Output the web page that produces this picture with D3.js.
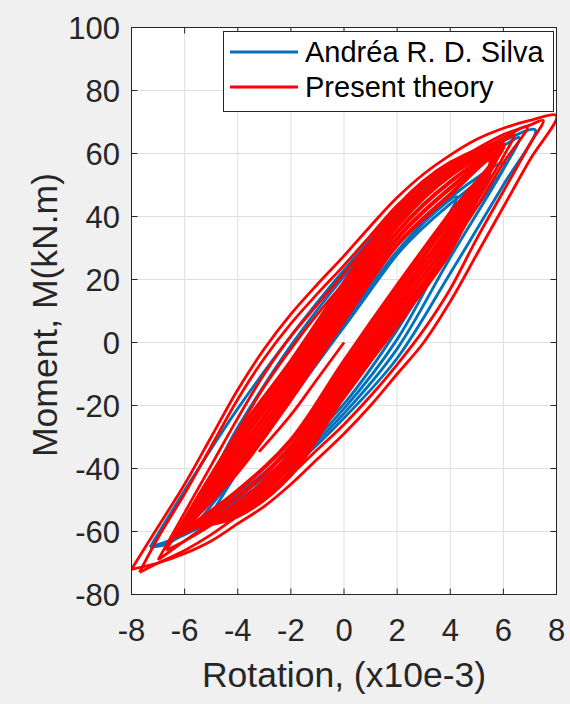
<!DOCTYPE html>
<html>
<head>
<meta charset="utf-8">
<script src="https://cdn.jsdelivr.net/npm/d3@7"></script>
<style>
  html, body { margin: 0; padding: 0; background: #f0f0f0; }
  svg { display: block; font-family: Arial, "Liberation Sans", Helvetica, sans-serif; }
</style>
</head>
<body>
<svg id="chart" width="570" height="704"></svg>
<script>
// --- axis ticks
const xTicks = [-8, -6, -4, -2, 0, 2, 4, 6, 8];
const yTicks = [-80, -60, -40, -20, 0, 20, 40, 60, 80, 100];

// --- experimental loops (blue), [rotation, moment]
const blueLoop1 = [[-7.3,-65],[-6,-47],[-4,-21],[-2,2],[0,23],[2,42],[4,55],[6,64],[7.2,67.5],
  [6,50],[4,22],[2,-5],[0,-24],[-2,-40],[-4,-52],[-6,-61],[-7.3,-65]];
const blueLoop2 = [[-7.3,-65],[-6.4,-62.7],[-4,-27],[-2,-1],[0,21],[2,40],[4,54],[6,62.5],[6.6,65],
  [6,55],[4,27],[2,-2],[0,-22.5],[-2,-39],[-4,-51],[-6.4,-62.7]];
const blueLoop3 = [[-6,-60],[-4,-39],[-2,-17],[0,6],[2,29],[4,46],[6.05,57],
  [4,31],[2,1],[0,-21],[-2,-38],[-4,-50],[-6,-60]];
const blueLoop4 = [[-5.5,-57],[-4,-41],[-2,-18],[0,5],[2,28],[4,44],[5.5,53],
  [4,32],[2,4],[0,-19.5],[-2,-36],[-4,-49],[-5.5,-57]];
const blueLoop5 = [[-4.86,-52.6],[-4,-41],[-2,-17],[0,5],[2,28],[3,38],[4.24,46.3],
  [3,27],[2,10],[0,-17],[-2,-34],[-4,-48],[-4.86,-52.6]];

// --- present theory (red): outer loops
const redLoop1 = [[-8,-72],[-7,-58.5],[-6,-45],[-5,-30],[-4,-15],[-3,-2],[-2,9],[-1,18.5],[0,27.5],[1,37],[2,46],[3,53.5],[4,59.5],[5,64.5],[6,68],[7,70.5],[8,72],
  [7,58],[6,43],[5,28],[4,13],[3,0],[2,-10],[1,-20],[0,-29],[-1,-37],[-2,-45],[-3,-52],[-4,-57.5],[-5,-63],[-6,-67],[-7,-70],[-8,-72]];
const redLoop2 = [[-7.7,-73],[-7,-62],[-6,-48],[-5,-33],[-4,-18],[-3,-5],[-2,6],[-1,15.5],[0,24.5],[1,34],[2,43.5],[3,50.5],[4,56.5],[5,61.5],[6,66],[7,69],[7.5,70.5],
  [7,63],[6,48],[5,33],[4,17],[3,4],[2,-7],[1,-17],[0,-26],[-1,-34],[-2,-42],[-3,-49],[-4,-55],[-5,-61],[-6,-66],[-7,-70],[-7.7,-73]];
const redLoop3 = [[-7,-69],[-6,-54],[-5,-39],[-4,-24],[-3,-10],[-2,2],[-1,12],[0,22],[1,32],[2,41],[3,48],[4,55],[5,60.5],[6,65],[6.9,68.5],
  [6,57],[5,43],[4,30],[3,17],[2,5],[1,-6],[0,-17],[-1,-27],[-2,-36],[-3,-44],[-4,-51],[-5,-57],[-6,-63],[-7,-69]];
const redLoop4 = [[-6.7,-66],[-6,-56],[-5,-42],[-4,-28],[-3,-14],[-2,-2],[-1,9],[0,19],[1,29],[2,38],[3,46],[4,53],[5,59],[6,64],[6.4,66],
  [6,59],[5,45],[4,31],[3,18],[2,6],[1,-6],[0,-17.5],[-1,-28],[-2,-37],[-3,-45],[-4,-52],[-5,-58],[-6,-63],[-6.7,-66]];

// --- present theory (red): dense repeated cycles
const redCycle1 = [[-6.4,-62],[-4,-29],[-2,-6],[0,19],[2,43],[4,57],[6.0,63],[4,41],[2,18],[0,-6],[-2,-31],[-4,-47],[-6.4,-62]];
const redCycle2 = [[-6.3,-61],[-4,-31],[-2,-8],[0,17],[2,41],[4,56],[5.9,62],[4,39],[2,16],[0,-8],[-2,-33],[-4,-49],[-6.3,-61]];
const redCycle3 = [[-6.2,-61],[-4,-33],[-2,-10],[0,15],[2,39],[4,54],[5.8,62],[4,37],[2,14],[0,-10],[-2,-35],[-4,-51],[-6.2,-61]];
const redCycle4 = [[-6.2,-60],[-4,-35],[-2,-12],[0,13],[2,37],[4,53],[5.8,61],[4,35],[2,12],[0,-12],[-2,-37],[-4,-53],[-6.2,-60]];
const redCycle5 = [[-6.1,-59],[-4,-37],[-2,-14],[0,11],[2,35],[4,51],[5.7,60],[4,33],[2,10],[0,-14],[-2,-39],[-4,-54],[-6.1,-59]];
const redCycle6 = [[-6.0,-59],[-4,-39],[-2,-16],[0,9],[2,33],[4,49],[5.6,59],[4,31],[2,8],[0,-16],[-2,-41],[-4,-55],[-6.0,-59]];
const redCycle7 = [[-5.9,-58],[-4,-41],[-2,-18],[0,7],[2,31],[4,47],[5.5,58],[4,29],[2,6],[0,-17],[-2,-42],[-4,-55],[-5.9,-58]];
const redStart = [[0,0],[-1,-11.5],[-2,-23],[-3.2,-34.7]];

const blueLoops = [blueLoop1, blueLoop2, blueLoop3, blueLoop4, blueLoop5];
const redLoops = [redLoop1, redLoop2, redLoop3, redLoop4, redStart];
const redCycles = [redCycle1, redCycle2, redCycle3, redCycle4, redCycle5, redCycle6, redCycle7];

const legendLabels = ['Andréa R. D. Silva', 'Present theory'];
const BLUE = '#0072BD', RED = '#FF0000';

// --- layout
const svg = d3.select('#chart');
const L = 131.5, R = 556.5, T = 27.5, B = 594.5;
const x = d3.scaleLinear().domain([-8, 8]).range([L, R]);
const y = d3.scaleLinear().domain([-80, 100]).range([B, T]);

// axes background
svg.append('rect').attr('x', L).attr('y', T).attr('width', R - L).attr('height', B - T).attr('fill', '#fff');

// grid
svg.append('g').selectAll('line').data(xTicks.slice(1, -1)).join('line')
  .attr('x1', d => x(d)).attr('x2', d => x(d)).attr('y1', T).attr('y2', B)
  .attr('stroke', '#dfdfdf').attr('stroke-width', 1);
svg.append('g').selectAll('line').data(yTicks.slice(1, -1)).join('line')
  .attr('y1', d => y(d)).attr('y2', d => y(d)).attr('x1', L).attr('x2', R)
  .attr('stroke', '#dfdfdf').attr('stroke-width', 1);

// curves: blue first, red drawn over it
svg.append('clipPath').attr('id', 'clip')
  .append('rect').attr('x', L).attr('y', T).attr('width', R - L).attr('height', B - T);
const line = d3.line().x(d => x(d[0])).y(d => y(d[1])).curve(d3.curveCatmullRom.alpha(0.5));
const plot = svg.append('g').attr('clip-path', 'url(#clip)');
plot.selectAll('path.blue').data(blueLoops).join('path').attr('class', 'blue')
  .attr('d', line).attr('fill', 'none').attr('stroke', BLUE).attr('stroke-width', 2.9)
  .attr('stroke-linejoin', 'round');
plot.selectAll('path.cycle').data(redCycles).join('path').attr('class', 'cycle')
  .attr('d', line).attr('fill', 'none').attr('stroke', RED).attr('stroke-width', 4.2)
  .attr('stroke-linejoin', 'round');
plot.selectAll('path.red').data(redLoops).join('path').attr('class', 'red')
  .attr('d', line).attr('fill', 'none').attr('stroke', RED).attr('stroke-width', 2.8)
  .attr('stroke-linejoin', 'round');

// box + inward ticks on all sides
const ink = '#262626';
svg.append('rect').attr('x', L).attr('y', T).attr('width', R - L).attr('height', B - T)
  .attr('fill', 'none').attr('stroke', ink).attr('stroke-width', 1);
const tk = 6;
const ticks = svg.append('g').attr('stroke', ink).attr('stroke-width', 1);
xTicks.forEach(v => {
  ticks.append('line').attr('x1', x(v)).attr('x2', x(v)).attr('y1', B).attr('y2', B - tk);
  ticks.append('line').attr('x1', x(v)).attr('x2', x(v)).attr('y1', T).attr('y2', T + tk);
});
yTicks.forEach(v => {
  ticks.append('line').attr('y1', y(v)).attr('y2', y(v)).attr('x1', L).attr('x2', L + tk);
  ticks.append('line').attr('y1', y(v)).attr('y2', y(v)).attr('x1', R).attr('x2', R - tk);
});

// tick labels
svg.append('g').selectAll('text').data(xTicks).join('text')
  .attr('x', d => x(d)).attr('y', 641).attr('text-anchor', 'middle')
  .attr('font-size', 31).attr('fill', ink).text(d => d);
svg.append('g').selectAll('text').data(yTicks).join('text')
  .attr('x', 120).attr('y', d => y(d)).attr('dy', '0.36em').attr('text-anchor', 'end')
  .attr('font-size', 31).attr('fill', ink).text(d => d);

// axis titles
svg.append('text').attr('x', (L + R) / 2).attr('y', 687).attr('text-anchor', 'middle')
  .attr('font-size', 35.5).attr('fill', ink).text('Rotation, (x10e-3)');
svg.append('text').attr('transform', `translate(57,${(T + B) / 2 + 4}) rotate(-90)`)
  .attr('text-anchor', 'middle').attr('font-size', 35.5).attr('fill', ink).text('Moment, M(kN.m)');

// legend
const lg = svg.append('g');
lg.append('rect').attr('x', 223.5).attr('y', 31.5).attr('width', 330).attr('height', 80)
  .attr('fill', '#fff').attr('stroke', ink).attr('stroke-width', 1);
const items = lg.selectAll('g').data(legendLabels).join('g')
  .attr('transform', (d, i) => `translate(0,${52 + i * 35})`);
items.append('line').attr('x1', 230).attr('x2', 298).attr('y1', 0).attr('y2', 0)
  .attr('stroke', (d, i) => i === 0 ? BLUE : RED).attr('stroke-width', 2.8);
items.append('text').attr('x', 305).attr('y', 0).attr('dy', '0.36em')
  .attr('font-size', 29).attr('fill', '#000').text(d => d);
</script>
</body>
</html>
